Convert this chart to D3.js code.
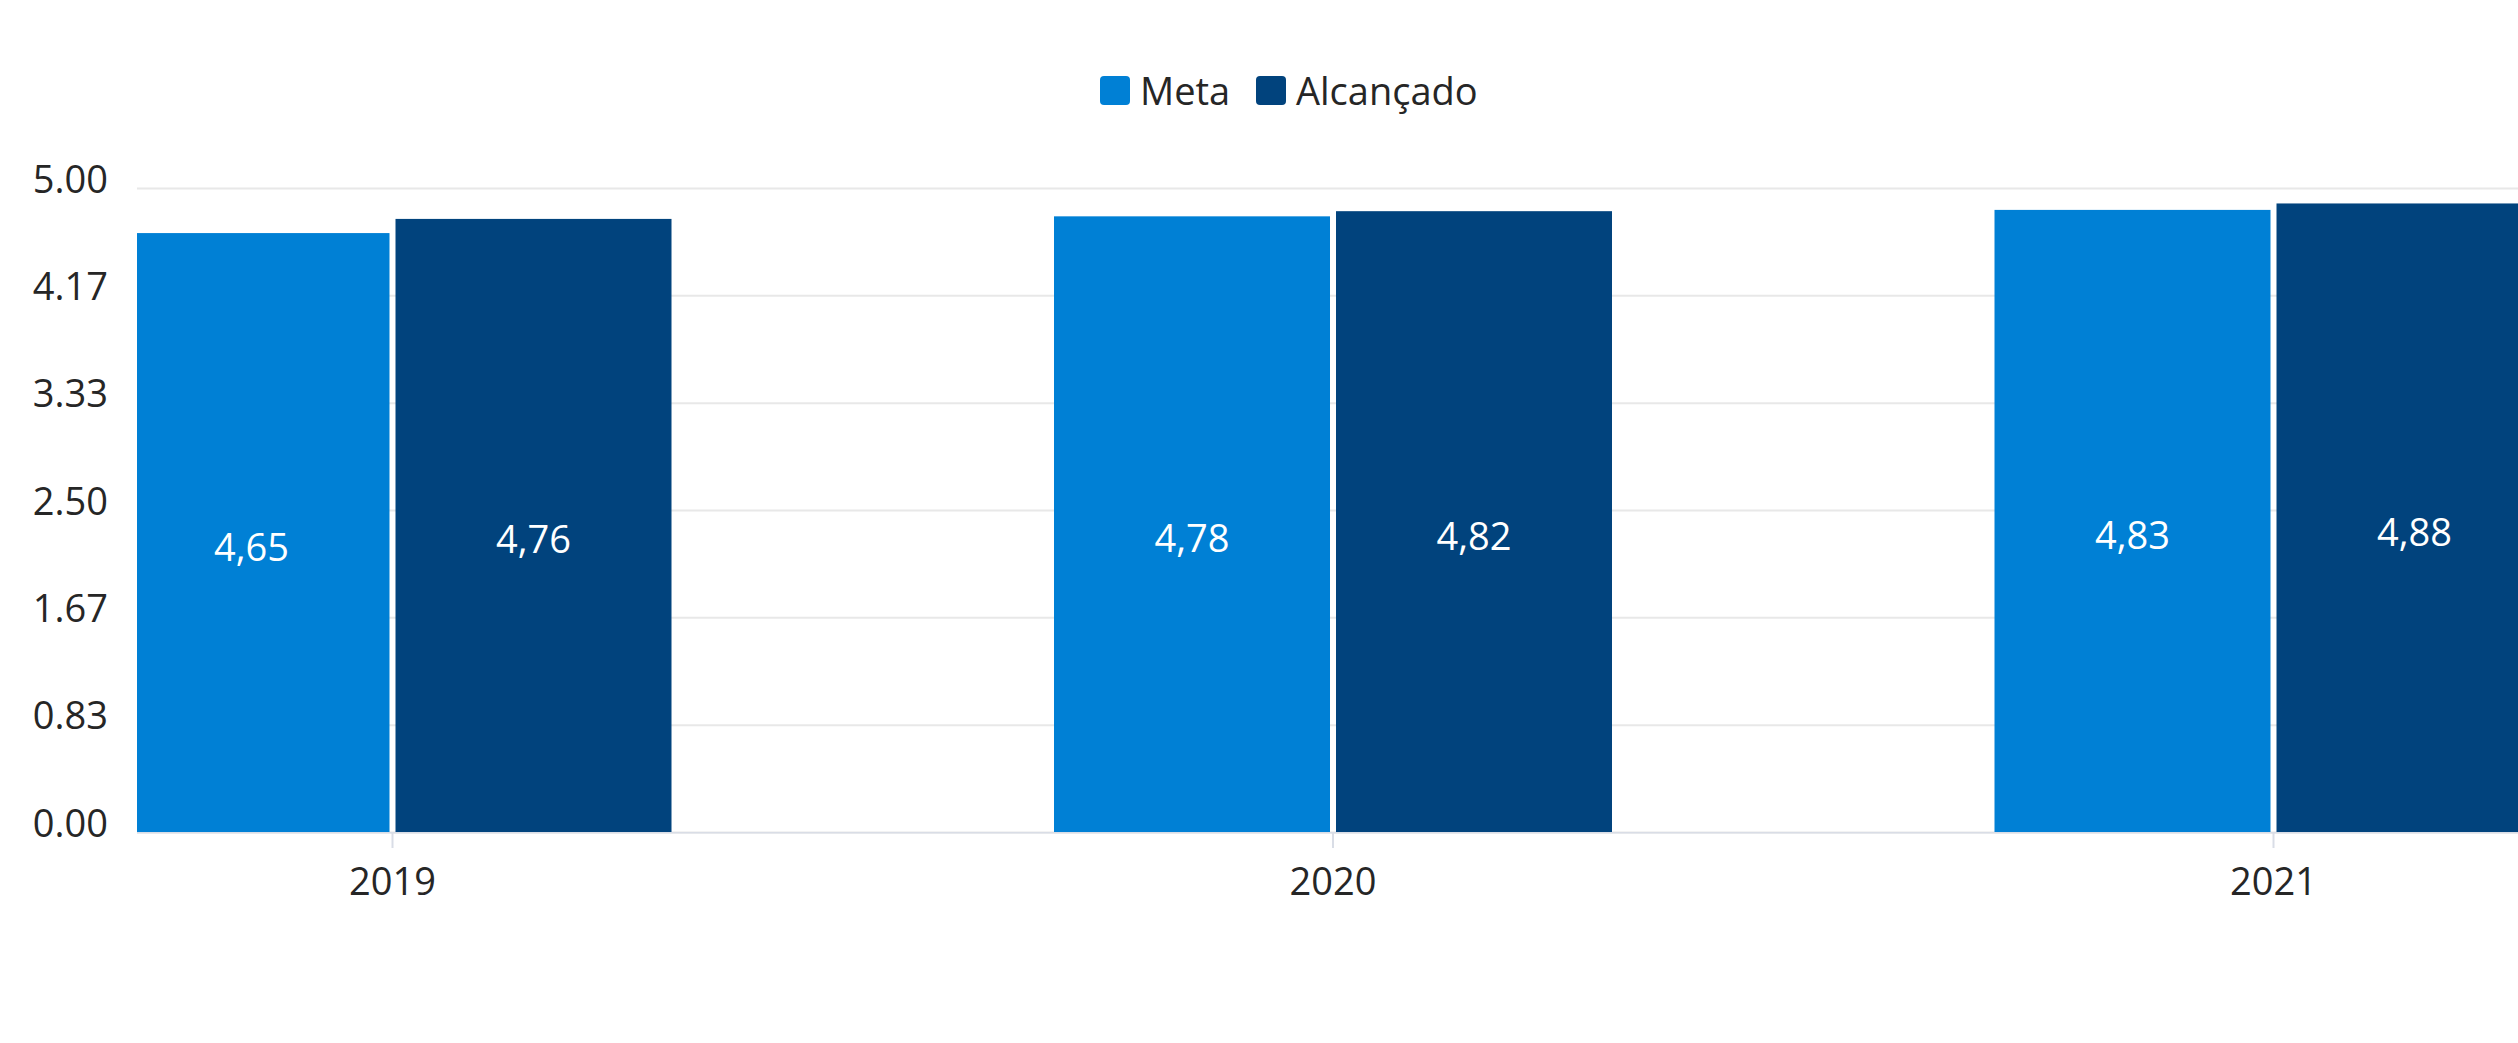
<!DOCTYPE html>
<html>
<head>
<meta charset="utf-8">
<script src="https://cdn.jsdelivr.net/npm/d3@7"></script>
<style>
    body { margin: 0; background: #fff; }
    text { font-family: "Open Sans", sans-serif; }
</style>
</head>
<body>
<div id="chart"></div>
<script>
// data
const years = ["2019", "2020", "2021"];
const seriesNames = ["Meta", "Alcançado"];
const metaValues = [4.65, 4.78, 4.83];
const alcancadoValues = [4.76, 4.82, 4.88];
const yTickValues = [0, 5 / 6, 10 / 6, 2.5, 20 / 6, 25 / 6, 5];
const colors = ["#0080d5", "#01437d"];

const width = 2518, height = 1043;
const fontSize = 38;

let svg = d3.select("#chart").append("svg")
    .attr("width", width)
    .attr("height", height);

// plot area (chart is scrolled, right side cut off)
const plotLeft = 137, plotRight = width, plotTop = 188, plotBottom = 832;

svg.append("defs")
    .append("clipPath")
    .attr("id", "plotClip")
    .append("rect")
    .attr("x", plotLeft)
    .attr("y", 0)
    .attr("width", plotRight - plotLeft)
    .attr("height", height);

let y = d3.scaleLinear()
    .domain([0, 5])
    .range([plotBottom, plotTop]);

let x0 = d3.scaleBand()
    .domain(years)
    .range([-77.75, 2743.75])
    .paddingInner(0.4067)
    .paddingOuter(0.4067 / 2);

let x1 = d3.scaleBand()
    .domain(seriesNames)
    .range([0, x0.bandwidth()])
    .paddingInner(0.0213);

// gridlines
let grid = svg.append("g")
    .attr("class", "grid")
    .attr("transform", `translate(${plotLeft}, 0)`)
    .call(d3.axisRight(y).tickValues(yTickValues).tickSize(plotRight - plotLeft).tickFormat(""));
grid.select(".domain").remove();
grid.selectAll("line").attr("stroke", "#e8e8e8").attr("stroke-width", 2);

// y labels
let yAxis = svg.append("g")
    .attr("transform", `translate(108, 0)`)
    .call(d3.axisLeft(y).tickValues(yTickValues).tickSize(0).tickPadding(0).tickFormat(d3.format(".2f")));
yAxis.select(".domain").remove();
yAxis.selectAll("text")
    .attr("dy", null)
    .attr("y", 4)
    .style("font-size", fontSize + "px")
    .style("font-family", "Open Sans")
    .attr("fill", "#262626");

// bars
let plot = svg.append("g").attr("clip-path", "url(#plotClip)");

let rows = years.map((yr, i) => ({
    year: yr,
    values: [
        {name: seriesNames[0], value: metaValues[i]},
        {name: seriesNames[1], value: alcancadoValues[i]}
    ]
}));

let groups = plot.selectAll("g.year")
    .data(rows)
    .enter()
    .append("g")
    .attr("class", "year")
    .attr("transform", d => `translate(${x0(d.year)}, 0)`);

groups.selectAll("rect")
    .data(d => d.values)
    .enter()
    .append("rect")
    .attr("x", d => x1(d.name))
    .attr("y", d => y(d.value))
    .attr("width", x1.bandwidth())
    .attr("height", d => y(0) - y(d.value))
    .attr("fill", (d, i) => colors[i]);

groups.selectAll("text")
    .data(d => d.values)
    .enter()
    .append("text")
    .attr("x", d => x1(d.name) + x1.bandwidth() / 2)
    .attr("y", d => (y(d.value) + y(0)) / 2 + 13)
    .attr("text-anchor", "middle")
    .attr("dominant-baseline", "central")
    .style("font-size", fontSize + "px")
    .attr("fill", "#fff")
    .text(d => d3.format(".2f")(d.value).replace(".", ","));

// x axis
let xAxis = svg.append("g")
    .attr("clip-path", "url(#plotClip)")
    .attr("transform", `translate(0, ${plotBottom})`)
    .call(d3.axisBottom(x0).tickSize(16).tickPadding(20));
xAxis.select(".domain").attr("stroke", "#d9dde6").attr("stroke-width", 2);
xAxis.selectAll("line").attr("stroke", "#d9dde6").attr("stroke-width", 2);
xAxis.selectAll("text")
    .style("font-size", fontSize + "px")
    .style("font-family", "Open Sans")
    .attr("fill", "#262626");

// legend
let legendItems = [
    {name: seriesNames[0], color: colors[0], x: 1100},
    {name: seriesNames[1], color: colors[1], x: 1256}
];

let legend = svg.append("g").attr("class", "legend");

let item = legend.selectAll("g")
    .data(legendItems)
    .enter()
    .append("g")
    .attr("transform", d => `translate(${d.x}, 76)`);

item.append("rect")
    .attr("width", 30)
    .attr("height", 29)
    .attr("rx", 4)
    .attr("fill", d => d.color);

item.append("text")
    .attr("x", 40)
    .attr("y", 29)
    .style("font-size", fontSize + "px")
    .attr("fill", "#262626")
    .text(d => d.name);
</script>
</body>
</html>
